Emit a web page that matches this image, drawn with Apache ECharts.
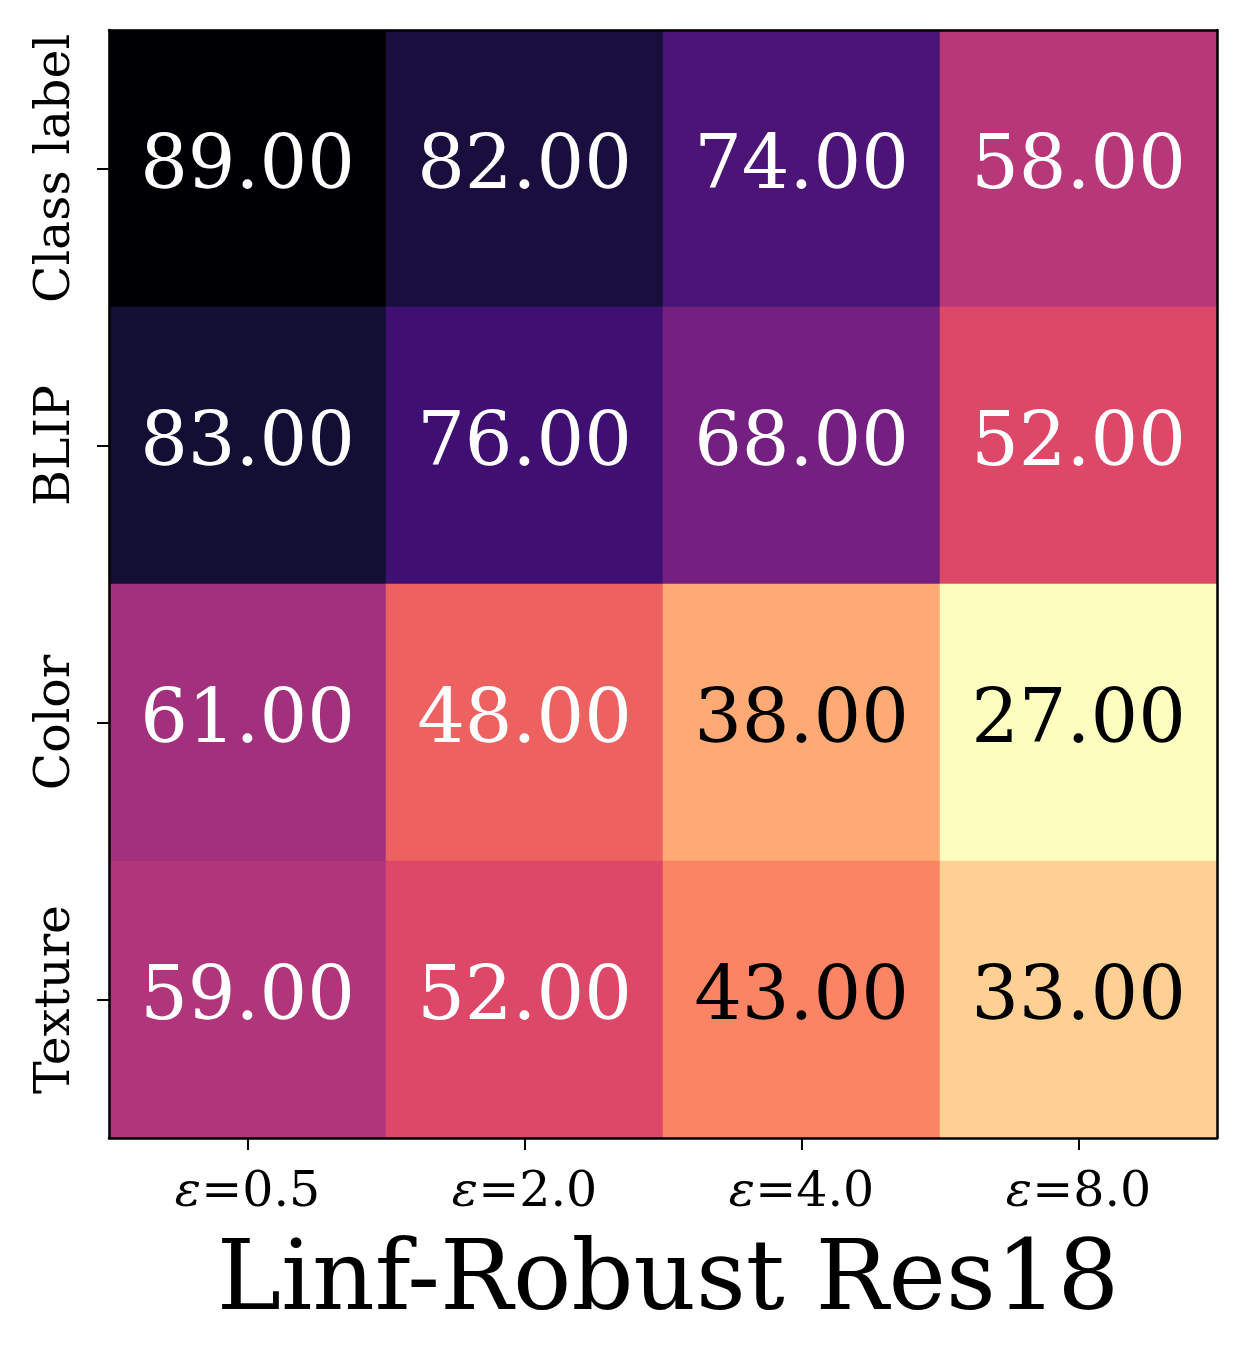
<!DOCTYPE html>
<html>
<head>
<meta charset="utf-8">
<script src="https://cdn.jsdelivr.net/npm/echarts@6/dist/echarts.min.js"></script>
<style>
  html, body { margin: 0; padding: 0; background: #fff; }
  #chart { width: 1247px; height: 1358px; }
</style>
</head>
<body>
<div id="chart"></div>
<script>
  // epsilon budgets along x, probes along y (top to bottom)
  const epsLabels = ['0.5', '2.0', '4.0', '8.0'];
  const rowLabels = ['Class label', 'BLIP', 'Color', 'Texture'];

  const classLabelRow = [89, 82, 74, 58];
  const blipRow = [83, 76, 68, 52];
  const colorRow = [61, 48, 38, 27];
  const textureRow = [59, 52, 43, 33];

  const rows = [classLabelRow, blipRow, colorRow, textureRow];

  // magma colormap, reversed (low value = light)
  const magmaR = ['#fcfdbf', '#fecf92', '#fe9f6d', '#f7705c', '#de4968', '#b73779',
    '#8c2981', '#641a80', '#3b0f70', '#140e36', '#000004'];

  const font = 'DejaVu Serif';

  const cells = [];
  rows.forEach((row, r) => {
    row.forEach((v, c) => {
      cells.push({
        value: [c, r, v],
        label: { color: v > 45 ? '#fff' : '#000' },
      });
    });
  });

  const chart = echarts.init(document.getElementById('chart'));
  chart.setOption({
    animation: false,
    textStyle: { fontFamily: font },
    title: {
      text: 'Linf-Robust Res18',
      left: 663,
      textAlign: 'center',
      top: 1230,
      textStyle: { fontFamily: font, fontSize: 97, fontWeight: 'normal', color: '#000' },
    },
    grid: { left: 109, top: 30, width: 1108, height: 1108 },
    xAxis: [
      {
        type: 'category',
        data: epsLabels,
        position: 'bottom',
        z: 10,
        axisLine: { show: true, lineStyle: { color: '#000', width: 2.5 } },
        axisTick: { show: true, alignWithLabel: true, length: 12, lineStyle: { color: '#000', width: 2 } },
        axisLabel: {
          interval: 0,
          margin: 31,
          formatter: v => `{e|ε}{t|=${v}}`,
          rich: {
            e: { fontFamily: font, fontStyle: 'italic', fontSize: 49, color: '#000' },
            t: { fontFamily: font, fontSize: 49, color: '#000' },
          },
        },
        splitLine: { show: false },
      },
      {
        type: 'category',
        data: epsLabels,
        position: 'top',
        z: 10,
        axisLine: { show: true, lineStyle: { color: '#000', width: 2.5 } },
        axisTick: { show: false },
        axisLabel: { show: false },
      },
    ],
    yAxis: [
      {
        type: 'category',
        data: rowLabels,
        inverse: true,
        position: 'left',
        z: 10,
        axisLine: { show: true, lineStyle: { color: '#000', width: 2.5 } },
        axisTick: { show: true, alignWithLabel: true, length: 12, lineStyle: { color: '#000', width: 2 } },
        axisLabel: {
          interval: 0,
          rotate: 90,
          margin: 28,
          formatter: v => `{t|${v}}`,
          rich: {
            t: { fontFamily: font, fontSize: 49, color: '#000' },
          },
        },
        splitLine: { show: false },
      },
      {
        type: 'category',
        data: rowLabels,
        inverse: true,
        position: 'right',
        z: 10,
        axisLine: { show: true, lineStyle: { color: '#000', width: 2.5 } },
        axisTick: { show: false },
        axisLabel: { show: false },
      },
    ],
    visualMap: {
      show: false,
      min: 27,
      max: 89,
      dimension: 2,
      inRange: { color: magmaR },
    },
    series: [
      {
        type: 'heatmap',
        xAxisIndex: 0,
        yAxisIndex: 0,
        data: cells,
        label: {
          show: true,
          fontFamily: font,
          fontSize: 75,
          formatter: p => p.value[2].toFixed(2),
        },
        emphasis: { disabled: true },
      },
    ],
  });
</script>
</body>
</html>
